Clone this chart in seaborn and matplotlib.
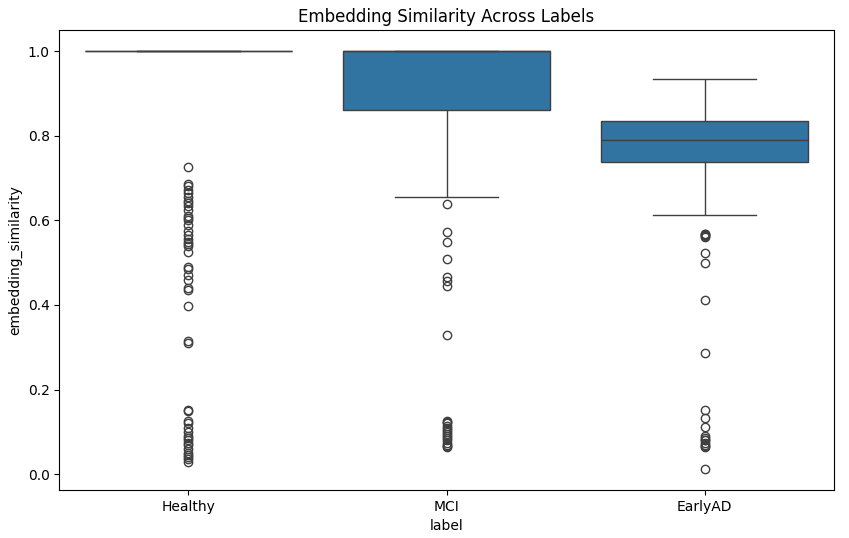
import matplotlib
matplotlib.use("Agg")
from matplotlib import pyplot as plt
import seaborn as sns
import numpy as np
import pandas as pd

labels = ["Healthy", "MCI", "EarlyAD"]

# Healthy: almost everything at 1.0, plus the outliers
healthy_vals = [1.0, 0.727, 0.685, 0.68, 0.672, 0.665, 0.655, 0.645, 0.64, 0.635,
                0.625, 0.61, 0.605, 0.60, 0.59, 0.575, 0.565, 0.555, 0.548, 0.545,
                0.54, 0.525, 0.49, 0.485, 0.47, 0.46, 0.44, 0.435, 0.397, 0.315,
                0.31, 0.152, 0.15, 0.125, 0.12, 0.11, 0.10, 0.09, 0.085, 0.08,
                0.075, 0.07, 0.06, 0.05, 0.045, 0.04, 0.035, 0.03]
healthy_counts = [300] + [1] * 47

mci_vals = [0.638, 0.572, 0.548, 0.509, 0.467, 0.456, 0.444, 0.33,
            0.125, 0.123, 0.12, 0.115, 0.11, 0.105, 0.10, 0.095, 0.09, 0.085,
            0.08, 0.075, 0.07, 0.068, 0.065,
            0.656, 0.75, 0.861, 0.90, 0.95, 0.98, 1.0]
mci_counts = [1] * 23 + [1, 1, 3, 4, 4, 4, 61]

early_vals = [0.568, 0.567, 0.565, 0.563, 0.56, 0.522, 0.499, 0.411, 0.287,
              0.151, 0.132, 0.111, 0.09, 0.085, 0.08, 0.08, 0.075, 0.07, 0.068,
              0.065, 0.012,
              0.613, 0.66, 0.70, 0.725, 0.738, 0.75, 0.77, 0.78, 0.79,
              0.80, 0.815, 0.825, 0.835, 0.86, 0.89, 0.91, 0.934]
early_counts = [1] * 21 + [1, 1, 1, 1, 2, 5, 9, 9, 3, 8, 8, 6, 2, 10, 8, 5, 1]

groups = [(healthy_vals, healthy_counts), (mci_vals, mci_counts), (early_vals, early_counts)]
frames = []
for lab, (v, c) in zip(labels, groups):
    frames.append(pd.DataFrame({"label": lab, "embedding_similarity": np.repeat(v, c)}))
df = pd.concat(frames, ignore_index=True)

fig, ax = plt.subplots(figsize=(8.49, 5.38), dpi=100)
sns.boxplot(data=df, x="label", y="embedding_similarity", order=labels, ax=ax)
ax.set_title("Embedding Similarity Across Labels")
plt.subplots_adjust(left=0.07, right=0.982, top=0.944, bottom=0.089)
plt.savefig("out.png", dpi=100)
